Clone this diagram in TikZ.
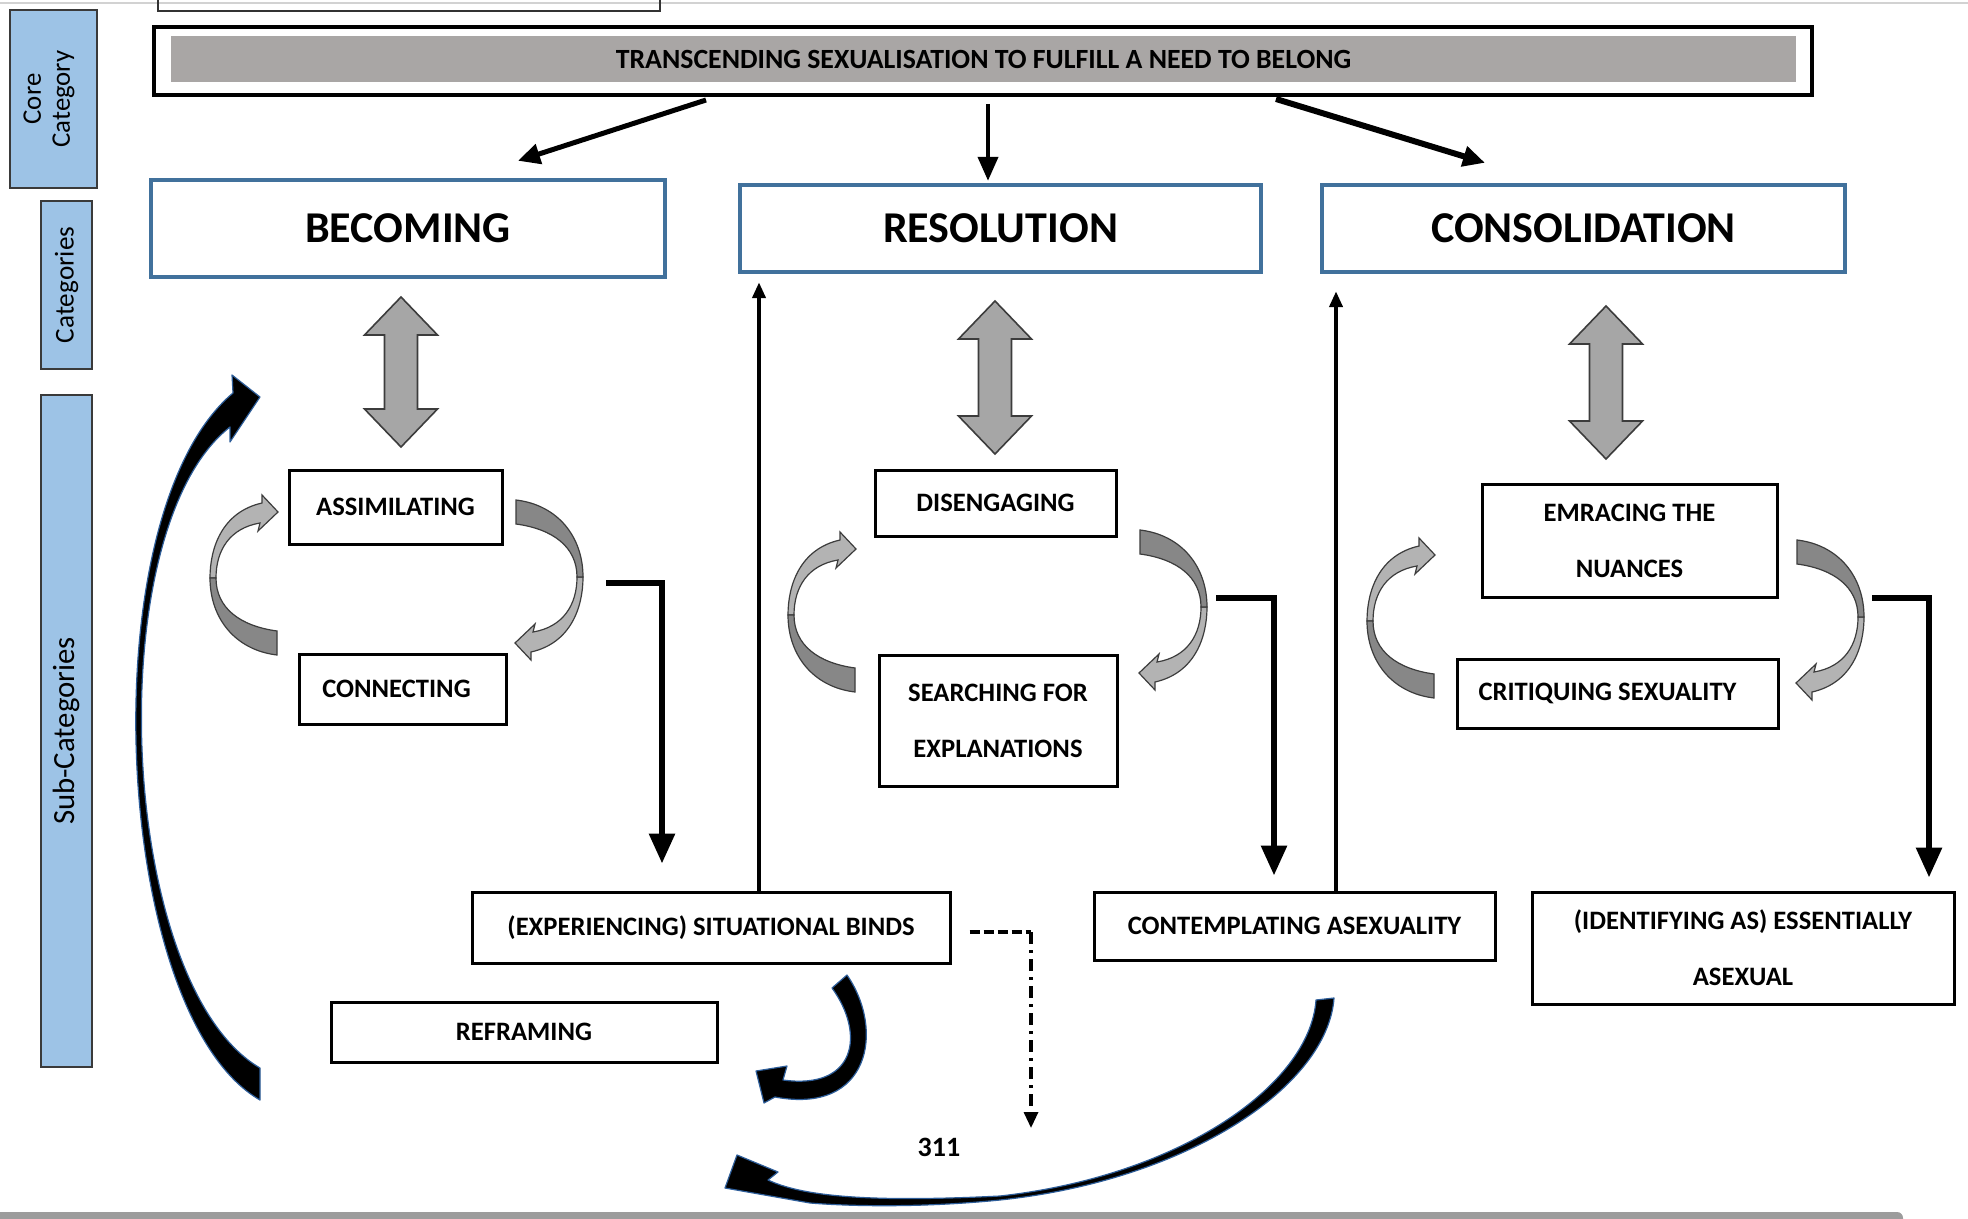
\documentclass[tikz,border=0pt]{standalone}
\usepackage{fontspec}
\setmainfont{Carlito}
\usetikzlibrary{arrows.meta,calc}
\definecolor{catblue}{HTML}{41719C}
\definecolor{labblue}{HTML}{9DC3E6}
\definecolor{labedge}{HTML}{3A3A3A}
\definecolor{coregray}{HTML}{A9A6A5}
\definecolor{arclight}{HTML}{B3B3B3}
\definecolor{arcdark}{HTML}{878787}
\definecolor{arcedge}{HTML}{3C3C3C}
\definecolor{dblgray}{HTML}{A6A6A6}
\definecolor{edgeblue}{HTML}{2E5E9A}
\definecolor{bargray}{HTML}{9C9C9C}
\newcommand{\grayDbl}[3]{%
  \filldraw[fill=dblgray, draw=arcedge, line width=0.8pt]
   (#1,#2) -- (#1+36.5,#2+38) -- (#1+16.5,#2+38) -- (#1+16.5,#3-38) -- (#1+36.5,#3-38)
   -- (#1,#3) -- (#1-36.5,#3-38) -- (#1-16.5,#3-38) -- (#1-16.5,#2+38) -- (#1-36.5,#2+38) -- cycle;}
\newcommand{\grayArc}[3]{%
  \begin{scope}[shift={(#1,#2)}, rotate=#3]
    \filldraw[fill=arclight, draw=arcedge, line width=0.6pt]
      (0,0) .. controls (0,-30) and (12,-66) .. (52,-75) -- (52,-83) -- (68,-66) -- (48,-47) -- (50,-55)
      .. controls (20,-50) and (6,-28) .. (6,0) -- cycle;
    \filldraw[fill=arcdark, draw=arcedge, line width=0.6pt]
      (0,0) .. controls (0,40) and (25,72) .. (67,77) -- (67,53)
      .. controls (30,48) and (6,30) .. (6,0) -- cycle;
  \end{scope}}
\tikzset{
  catbox/.style={draw=catblue, line width=2.2pt, fill=white, inner sep=0pt,
    font=\fontsize{22}{26}\selectfont\bfseries},
  subbox/.style={draw=black, line width=1.5pt, fill=white, inner sep=0pt, align=center,
    font=\fontsize{13.3}{28}\selectfont\bfseries},
  labbox/.style={draw=labedge, line width=1pt, fill=labblue, inner sep=0pt},
  labtext/.style={rotate=90, align=center, inner sep=0pt},
  corearr/.style={line width=2.5pt, -{Triangle[length=11pt,width=10pt]}},
  elbowarr/.style={line width=3pt, -{Triangle[length=15pt,width=12.5pt]}},
  thinarr/.style={line width=2pt, -{Triangle[length=8pt,width=6.5pt]}},
  dashh/.style={line width=2.2pt, dash pattern=on 5pt off 2pt},
  dashv/.style={line width=1.6pt, dash pattern=on 6pt off 3pt on 1.5pt off 3pt, -{Triangle[length=8pt,width=7pt]}},
  curvearr/.style={fill=black, draw=edgeblue, line width=0.6pt, line join=round}
}
\begin{document}
\begin{tikzpicture}[x=0.5pt,y=-0.5pt]
\useasboundingbox (0,0) rectangle (1968,1219);
\clip (0,0) rectangle (1968,1219);
\fill[white] (0,0) rectangle (1968,1219);
% screenshot edges
\draw[gray!35, line width=0.6pt] (0,3) -- (1968,3);
\draw[black!80, line width=0.8pt] (158,-10) rectangle (660,11);
\fill[bargray, rounded corners=3pt] (-10,1212) rectangle (1903,1230);

% left labels
\node[labbox, minimum width=43.5pt, minimum height=89pt] (corelab) at (53.5,99) {};
\node[labtext, font=\fontsize{13.4}{14.5}\selectfont] (corelabtext) at (49,99) {Core\\Category};
\node[labbox, minimum width=25.5pt, minimum height=84pt] (catlab) at (66.5,285) {};
\node[labtext, font=\fontsize{13.6}{16}\selectfont] (catlabtext) at (catlab.center) {Categories};
\node[labbox, minimum width=25.5pt, minimum height=336pt] (sublab) at (66.5,731) {};
\node[labtext, font=\fontsize{15.4}{18}\selectfont] (sublabtext) at (sublab.center) {Sub-Categories};

% core category
\node[draw=black, line width=2pt, minimum width=829pt, minimum height=34pt, inner sep=0pt] (core) at (983,61) {};
\node[fill=coregray, minimum width=812.5pt, minimum height=23pt, inner sep=0pt,
  font=\fontsize{13.9}{15}\selectfont\bfseries] (coretitle) at (983.5,59)
  {TRANSCENDING SEXUALISATION TO FULFILL A NEED TO BELONG};

% categories
\node[catbox, minimum width=257pt, minimum height=48.5pt] (becoming) at (408,228.5) {BECOMING};
\node[catbox, minimum width=260.5pt, minimum height=43.5pt] (resolution) at (1000.5,228.5) {RESOLUTION};
\node[catbox, minimum width=261.5pt, minimum height=43.5pt] (consol) at (1583.5,228.5) {CONSOLIDATION};

% sub-categories
\node[subbox, minimum width=106.5pt, minimum height=37pt] (assim) at (395.5,507) {ASSIMILATING};
\node[subbox, minimum width=103.5pt, minimum height=35pt] (connect) at (402.5,689) {CONNECTING\hspace*{6pt}};
\node[subbox, minimum width=120.5pt, minimum height=33pt] (diseng) at (995.5,503) {DISENGAGING};
\node[subbox, minimum width=119pt, minimum height=65.5pt] (search) at (998,720.5) {SEARCHING FOR\\EXPLANATIONS};
\node[subbox, minimum width=147.5pt, minimum height=56.5pt] (embrace) at (1629.5,540.5) {EMRACING THE\\NUANCES};
\node[subbox, minimum width=160.5pt, minimum height=34.5pt] (critique) at (1617.5,693.5) {CRITIQUING SEXUALITY\hspace*{10pt}};
\node[subbox, minimum width=239pt, minimum height=35.5pt] (binds) at (711,927.5) {(EXPERIENCING) SITUATIONAL BINDS};
\node[subbox, minimum width=193pt, minimum height=30pt] (reframe) at (524,1032) {REFRAMING};
\node[subbox, minimum width=200.5pt, minimum height=34pt] (contemp) at (1294.5,926) {CONTEMPLATING ASEXUALITY};
\node[subbox, minimum width=211pt, minimum height=56pt] (ident) at (1743,948) {\raisebox{-2.5pt}{(IDENTIFYING AS) ESSENTIALLY}\\\raisebox{-2.5pt}{ASEXUAL}};
\node[font=\fontsize{14}{16}\selectfont\bfseries, inner sep=0pt] (pagenum) at (939,1147) {311};

% arrows from core category
\draw[corearr] ($(core.south)+(-277,3)$) -- ($(becoming.north)+(110,-17)$);
\draw[line width=2pt, -{Triangle[length=12pt,width=10pt]}] ($(core.south)+(5,7)$) -- ($(resolution.north)+(-12.5,-2)$);
\draw[line width=3pt, -{Triangle[length=11pt,width=10pt]}] ($(core.south)+(293,2)$) -- ($(consol.north)+(-98.5,-20)$);

% gray double arrows
\grayDbl{401}{297}{447}
\grayDbl{995}{301}{454}
\grayDbl{1606}{306}{459}

% gray circular arrows
\grayArc{210}{578}{0}
\grayArc{583}{577}{180}
\grayArc{788}{615}{0}
\grayArc{1207}{607}{180}
\grayArc{1367}{621}{0}
\grayArc{1864}{617}{180}

% elbow arrows
\coordinate (e1) at (606,583);
\coordinate (e2) at (1216,598);
\coordinate (e3) at (1872,598);
\draw[elbowarr] (e1) -| ($(binds.north)+(-49,-27)$);
\draw[elbowarr] (e2) -| ($(contemp.north)+(-20.5,-15)$);
\draw[elbowarr] (e3) -| ($(ident.north)+(186,-13)$);

% long upward arrows
\draw[thinarr] ($(binds.north)+(48,0)$) -- ($(resolution.south)+(-241.5,8)$);
\draw[thinarr] ($(contemp.north)+(41.5,0)$) -- ($(consol.south)+(-247.5,17)$);

% dashed arrow
\coordinate (d0) at ($(binds.east)+(18,4.5)$);
\coordinate (d1) at (1031,932);
\coordinate (d2) at (1031,1128);
\draw[dashh] (d0) -- (d1);
\draw[dashv] (d1) -- (d2);

% big left curved arrow
\filldraw[curvearr] (260,1100) .. controls (112,1015) and (88,515) .. (233,393)
  -- (232,375) -- (260,397) -- (230,442) -- (230,427)
  .. controls (98,530) and (118,985) .. (260,1068) -- cycle;
% reframing curl
\filldraw[curvearr] (847,975) .. controls (885,1030) and (870,1115) .. (775,1097)
  -- (764,1103) -- (756,1071) -- (787,1066) -- (783,1080)
  .. controls (855,1090) and (866,1035) .. (832,988) -- cycle;
% bottom curved arrow
\filldraw[curvearr] (1334,998) .. controls (1328,1085) and (1190,1180) .. (1000,1200)
  .. controls (930,1207) and (860,1207) .. (810,1203) -- (725,1188)
  -- (737,1155) -- (778,1172) -- (768,1180)
  .. controls (800,1195) and (860,1203) .. (1000,1196)
  .. controls (1180,1176) and (1310,1085) .. (1316,1000) -- cycle;
\end{tikzpicture}
\end{document}
